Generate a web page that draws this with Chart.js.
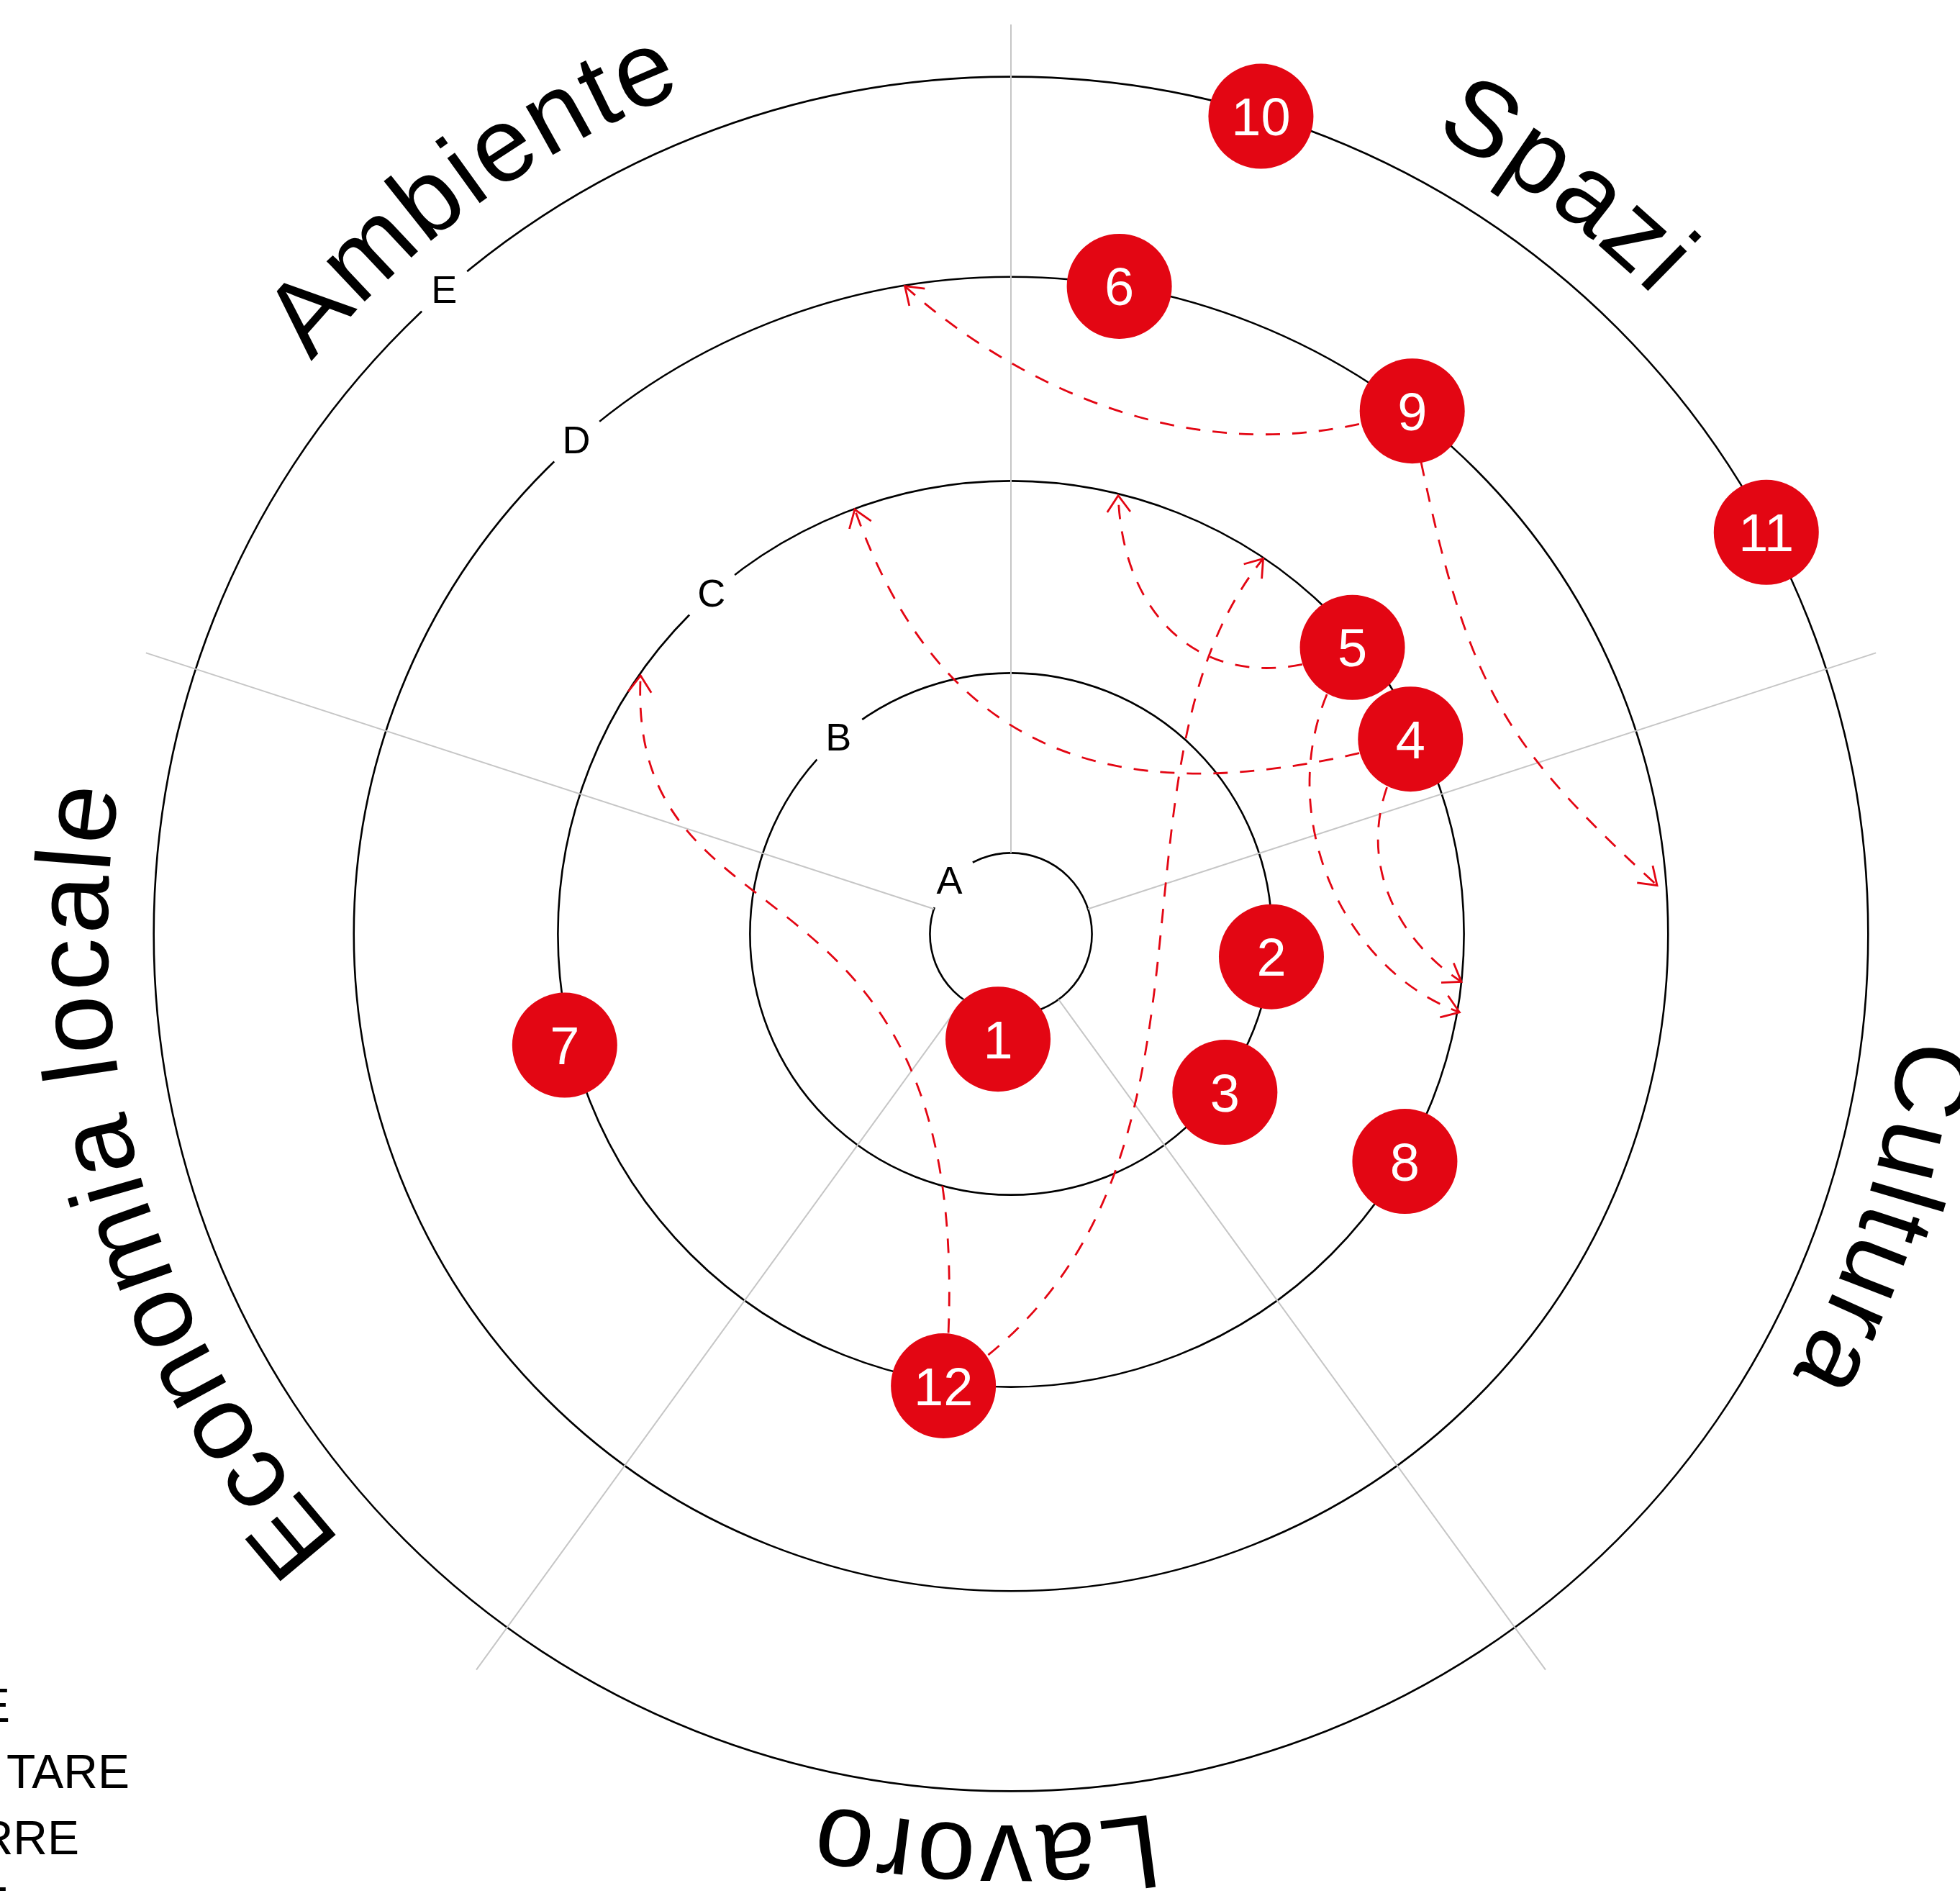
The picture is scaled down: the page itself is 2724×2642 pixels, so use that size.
<!DOCTYPE html>
<html>
<head>
<meta charset="utf-8">
<script src="https://cdn.jsdelivr.net/npm/chart.js@4/dist/chart.umd.min.js"></script>
<style>
html,body{margin:0;padding:0;background:#ffffff;}
canvas{display:block;}
</style>
</head>
<body>
<canvas id="c" width="2724" height="2642" style="width:2724px;height:2642px"></canvas>
<script>
// ---------------- DATA ----------------
// Radial scale: rings A..E (value units, E = 100), axis extends a bit beyond E
const ringLabels = ['A', 'B', 'C', 'D', 'E'];
const ringValues = [9.45, 30.44, 52.85, 76.66, 100];
const scaleMax = 106.1;
const ringLabelAngles = [310.5, 318.6, 318.6, 318.6, 318.6];   // degrees, clockwise from top

// Sector dividers (spokes) and the five categories
const spokeAngles = [0, 72, 144, 216, 288];
const categories = ['Spazi', 'Cultura', 'Lavoro', 'Economia locale', 'Ambiente'];
const categoryAngles = [36.5, 108, 181.5, 253.5, 324];
const categoryRadius = [105.6, 104.6, 104.0, 105.4, 105.4];

// Numbered bubbles: angle (deg clockwise from top) and radial level
const bubbleIds    = [1, 2, 3, 4, 5, 6, 7, 8, 9, 10, 11, 12];
const bubbleAngles = [187.1, 95.1, 126.5, 64.1, 50.1, 9.5, 255.9, 119.9, 37.3, 17.2, 61.9, 188.3];
const bubbleLevels = [12.36, 30.5, 31.05, 51.86, 52.0, 76.6, 53.65, 53.06, 76.9, 99.75, 99.8, 53.3];

// Dashed arrows: from bubble id to a target (angle, level), cubic controls in polar values
const arrowFrom     = [9, 9, 4, 4, 5, 5, 12, 12];
const arrowToAngle  = [350.7, 85.7, 339.8, 96.05, 13.75, 99.9, 304.9, 33.9];
const arrowToLevel  = [76.58, 75.59, 52.77, 52.84, 52.66, 53.12, 52.68, 52.76];
const arrowC1Angle  = [20.8, 60.53, 43.0, 75.4, 42.27, 57.65, 350.44, 135.5];
const arrowC1Level  = [55.54, 60.65, 17.56, 39.48, 35.58, 34.29, 12.64, 41.35];
const arrowC2Angle  = [357.49, 67.62, 339.0, 91.22, 19.89, 95.39, 264.5, 25.67];
const arrowC2Level  = [67.09, 60.85, 22.70, 45.35, 38.26, 37.11, 45.13, 20.35];

// Partly visible legend words (cut by the left edge)
const legendWords = ['E', 'TARE', 'RRE', 'E'];

// ---------------- SETUP ----------------
const RED = '#e30613';
const STEPS_PER_DEG = 2;                 // angular resolution of the radar categories
const angleSlots = Array.from({length: 360 * STEPS_PER_DEG}, () => '');
const bubbleData = angleSlots.map(() => null);
const bubbleSlot = {};
bubbleIds.forEach((id, i) => {
  const idx = Math.round(bubbleAngles[i] * STEPS_PER_DEG) % angleSlots.length;
  bubbleData[idx] = bubbleLevels[i];
  bubbleSlot[id] = idx;
});

function pos(s, deg, val) {
  return s.getPointPositionForValue(deg * STEPS_PER_DEG, val);
}
function canvasAngle(deg) { return (deg - 90) * Math.PI / 180; }

function drawArcText(c, s, text, centerDeg, radiusVal, spacing) {
  const R = s.getDistanceFromCenterForValue(radiusVal);
  const chars = [...text];
  const widths = chars.map(ch => c.measureText(ch).width + spacing);
  const total = widths.reduce((a, b) => a + b, 0) - spacing;
  let acc = -total / 2;
  chars.forEach((ch, i) => {
    const mid = acc + (widths[i] - spacing) / 2;
    const theta = centerDeg + (mid / R) * 180 / Math.PI;
    const p = pos(s, theta, radiusVal);
    c.save();
    c.translate(p.x, p.y);
    c.rotate(theta * Math.PI / 180);
    c.textAlign = 'center';
    c.textBaseline = 'alphabetic';
    c.fillText(ch, 0, 0);
    c.restore();
    acc += widths[i];
  });
}

const overlay = {
  id: 'overlay',
  beforeDatasetsDraw(chart) {
    const s = chart.scales.r;
    const c = chart.ctx;
    const cx = s.xCenter, cy = s.yCenter;
    c.save();

    // gaps in the rings where the ring letters sit
    c.strokeStyle = '#ffffff';
    c.lineWidth = 8;
    ringValues.forEach((v, i) => {
      const r = s.getDistanceFromCenterForValue(v);
      const half = 42 / r;
      const a = canvasAngle(ringLabelAngles[i]);
      c.beginPath();
      c.arc(cx, cy, r, a - half, a + half);
      c.stroke();
    });

    // spokes from ring A outwards
    c.strokeStyle = '#c6c6c6';
    c.lineWidth = 2;
    spokeAngles.forEach(d => {
      const p0 = pos(s, d, ringValues[0]);
      const p1 = pos(s, d, scaleMax);
      c.beginPath();
      c.moveTo(p0.x, p0.y);
      c.lineTo(p1.x, p1.y);
      c.stroke();
    });

    // ring letters
    c.fillStyle = '#000';
    c.font = '54px "Liberation Sans", Arial, sans-serif';
    c.textAlign = 'center';
    c.textBaseline = 'middle';
    ringLabels.forEach((t, i) => {
      const p = pos(s, ringLabelAngles[i], ringValues[i]);
      c.fillText(t, p.x, p.y + 2);
    });

    // category labels, written along the circle
    c.font = '146px "Liberation Sans", Arial, sans-serif';
    categories.forEach((t, i) => {
      drawArcText(c, s, t, categoryAngles[i], categoryRadius[i], 4);
    });

    // legend fragments at the bottom-left edge
    c.font = '66px "Liberation Sans", Arial, sans-serif';
    c.textAlign = 'right';
    c.textBaseline = 'alphabetic';
    const lx = [14, 180, 110, 12];
    legendWords.forEach((w, i) => {
      c.fillText(w, lx[i], 2393 + i * 92);
    });

    // dashed arrows
    c.strokeStyle = RED;
    c.lineWidth = 2.8;
    arrowFrom.forEach((id, i) => {
      const bi = bubbleIds.indexOf(id);
      const p0 = pos(s, bubbleAngles[bi], bubbleLevels[bi]);
      const p1 = pos(s, arrowC1Angle[i], arrowC1Level[i]);
      const p2 = pos(s, arrowC2Angle[i], arrowC2Level[i]);
      const p3 = pos(s, arrowToAngle[i], arrowToLevel[i]);
      c.setLineDash([20, 17]);
      c.beginPath();
      c.moveTo(p0.x, p0.y);
      c.bezierCurveTo(p1.x, p1.y, p2.x, p2.y, p3.x, p3.y);
      c.stroke();
      // open arrowhead
      c.setLineDash([]);
      const ang = Math.atan2(p3.y - p2.y, p3.x - p2.x);
      const L = 28, w = 35 * Math.PI / 180;
      c.beginPath();
      c.moveTo(p3.x - L * Math.cos(ang - w), p3.y - L * Math.sin(ang - w));
      c.lineTo(p3.x, p3.y);
      c.lineTo(p3.x - L * Math.cos(ang + w), p3.y - L * Math.sin(ang + w));
      c.stroke();
    });
    c.restore();
  },
  afterDatasetsDraw(chart) {
    const c = chart.ctx;
    const meta = chart.getDatasetMeta(0);
    c.save();
    c.fillStyle = '#ffffff';
    c.font = '74px "Liberation Sans", Arial, sans-serif';
    c.textAlign = 'center';
    c.textBaseline = 'alphabetic';
    bubbleIds.forEach(id => {
      const el = meta.data[bubbleSlot[id]];
      c.fillText(String(id), el.x, el.y + 26.5);
    });
    c.restore();
  }
};

new Chart(document.getElementById('c'), {
  type: 'radar',
  data: {
    labels: angleSlots,
    datasets: [{
      data: bubbleData,
      showLine: false,
      fill: false,
      borderWidth: 0,
      borderColor: 'rgba(0,0,0,0)',
      backgroundColor: 'rgba(0,0,0,0)',
      pointRadius: 73,
      pointHoverRadius: 73,
      pointBorderWidth: 0,
      pointBackgroundColor: RED,
      pointBorderColor: RED,
      clip: false
    }]
  },
  options: {
    responsive: false,
    animation: false,
    events: [],
    layout: { padding: { left: 141, top: 34, right: 55, bottom: 80 } },
    plugins: { legend: { display: false }, tooltip: { enabled: false } },
    scales: {
      r: {
        min: 0,
        max: scaleMax,
        startAngle: 0,
        ticks: { display: false },
        pointLabels: { display: false },
        angleLines: { display: false },
        grid: { circular: true, color: '#000000', lineWidth: 2.6 },
        afterBuildTicks: (sc) => { sc.ticks = [0, ...ringValues].map(v => ({ value: v })); }
      }
    }
  },
  plugins: [overlay]
});
</script>
</body>
</html>
